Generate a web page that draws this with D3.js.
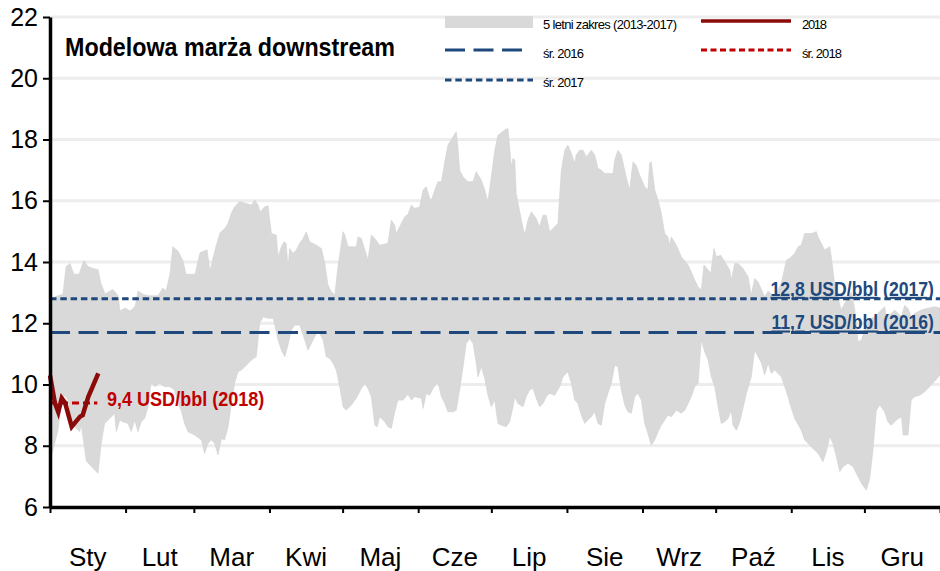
<!DOCTYPE html>
<html>
<head>
<meta charset="utf-8">
<script src="https://cdn.jsdelivr.net/npm/d3@7/dist/d3.min.js"></script>
<style>
  body { margin: 0; background: #fff; }
  svg { display: block; }
</style>
</head>
<body>
<svg id="chart" width="940" height="571"></svg>
<script>
// Month labels (Polish) and y-axis ticks
const monthLabels = ["Sty", "Lut", "Mar", "Kwi", "Maj", "Cze", "Lip", "Sie", "Wrz", "Paź", "Lis", "Gru"];
const yTicks = [6, 8, 10, 12, 14, 16, 18, 20, 22];

// 5-year range 2013-2017: upper envelope [day of year, USD/bbl]
const rangeUpper = [
  [0,12.8],[3.3,12.9],[5.3,12.95],[6.6,13.85],[8.2,13.95],[9.8,13.6],[11.9,13.6],[13.9,14.05],[15.6,13.85],[17.2,13.8],
  [19.7,13.75],[20.9,13.3],[22.6,12.95],[24.6,13.05],[25.8,13.1],[27.9,12.9],[28.7,12.4],[30.8,12.5],[32.8,12.4],[34.9,12.55],
  [36.1,13.05],[38.1,12.95],[40.2,12.9],[44.3,12.9],[46.3,13.15],[47.6,13.05],[49.2,13.6],[50.4,14.5],[52.5,14.35],[54.5,14.05],
  [55.8,13.6],[59.5,13.6],[61.5,14.3],[64.4,14.4],[65.6,13.7],[67.7,14.4],[69.7,14.95],[71.8,15.1],[73.0,15.26],[74.4,15.6],
  [75.7,15.8],[77.8,15.97],[80.5,15.91],[82.6,15.86],[84.0,16.02],[85.3,15.86],[86.2,15.64],[88.0,15.8],[89.4,15.84],[90.8,14.93],
  [92.8,14.88],[93.5,14.17],[94.9,14.5],[96.0,14.66],[96.9,14.6],[97.6,13.79],[98.3,14.44],[99.7,14.28],[101.0,14.39],[102.4,14.61],
  [103.8,14.77],[105.1,14.99],[106.5,14.66],[109.2,14.55],[111.3,14.44],[112.7,13.95],[114.0,13.25],[115.4,13.03],[116.8,12.92],[118.1,13.85],
  [120.2,14.99],[120.9,14.88],[122.2,14.5],[125.6,14.5],[126.3,14.82],[127.7,14.77],[129.1,14.4],[130.4,14.06],[131.8,14.88],[133.2,14.77],
  [135.2,14.55],[138.6,14.61],[140.0,15.37],[141.4,15.2],[142.0,14.93],[144.1,15.26],[145.5,15.48],[146.8,15.55],[148.2,15.86],[149.6,15.75],
  [151.6,15.8],[153.0,16.35],[154.3,16.46],[155.7,16.08],[156.4,16.02],[157.8,16.35],[159.1,16.62],[160.5,16.62],[161.9,17.27],[163.2,17.82],
  [165.3,18.09],[166.6,18.25],[167.3,17.76],[168.0,17.0],[169.4,16.78],[171.4,16.62],[173.5,16.62],[174.8,16.95],[176.9,16.67],[178.3,16.35],
  [179.6,15.97],[181.0,16.78],[182.4,17.65],[183.7,18.14],[186.5,18.31],[187.8,18.36],[188.5,17.76],[189.2,17.11],[189.9,17.38],[190.6,17.33],
  [191.2,16.24],[193.3,15.37],[194.7,14.88],[196.0,15.37],[197.4,15.64],[199.4,15.42],[200.8,15.15],[202.2,15.53],[203.5,15.53],[204.9,14.99],
  [207.0,15.15],[208.3,15.26],[209.7,17.0],[211.1,17.65],[212.4,17.82],[213.8,17.55],[215.2,17.22],[215.8,17.49],[217.2,17.65],[218.6,17.65],
  [219.9,17.44],[220.6,17.49],[222.0,17.65],[223.4,17.49],[224.7,17.06],[226.1,17.0],[227.5,16.89],[230.9,16.89],[231.6,17.33],[232.9,17.65],
  [234.3,17.49],[236.3,16.78],[237.7,16.35],[239.1,17.27],[240.4,17.16],[241.8,16.84],[243.9,16.46],[245.2,16.35],[245.9,17.22],[246.6,17.27],
  [248.0,16.35],[249.4,16.02],[250.7,15.59],[252.1,14.93],[253.4,14.82],[254.1,14.55],[254.8,14.82],[256.9,14.55],[258.9,14.17],[261.7,13.9],
  [263.0,13.68],[264.4,13.41],[265.8,13.19],[267.1,13.08],[268.2,13.9],[269.9,13.74],[271.0,13.63],[272.3,14.44],[273.3,14.17],[275.1,14.22],
  [276.7,14.01],[278.8,13.74],[279.4,13.41],[280.8,13.95],[282.2,13.95],[284.2,13.79],[286.3,13.52],[287.6,12.92],[289.0,13.46],[290.4,13.35],
  [293.1,12.86],[294.5,13.05],[297.2,12.86],[299.9,13.3],[302.0,14.06],[303.4,14.12],[305.4,14.28],[306.8,14.5],[308.1,14.55],[309.5,14.93],
  [312.2,14.93],[314.3,14.99],[315.0,14.82],[316.3,14.61],[317.7,14.39],[319.8,14.5],[320.4,14.17],[321.8,13.3],[323.1,12.86],[324.5,12.43],
  [325.9,12.65],[327.2,12.81],[328.6,13.0],[330.0,12.48],[331.4,11.4],[332.7,11.45],[335.5,12.1],[338.2,12.21],[340.9,12.43],[342.3,12.54],
  [343.0,12.21],[345.0,12.32],[346.4,12.43],[349.2,12.21],[350.5,12.59],[351.9,12.48],[353.2,12.21],[354.6,12.32],[357.3,12.43],[360.1,12.49],
  [362.8,12.54],[365,12.5]
];

// 5-year range 2013-2017: lower envelope [day of year, USD/bbl]
const rangeLower = [
  [0,7.5],[1.9,8.08],[3.3,8.51],[4.6,9.38],[6.0,9.65],[7.4,9.49],[8.7,8.78],[10.1,8.62],[12.2,8.46],[12.8,8.7],
  [14.9,7.5],[18.3,7.21],[19.7,7.1],[21.0,8.08],[22.4,8.73],[24.5,8.89],[26.5,9.06],[27.2,8.46],[28.6,8.84],[29.9,8.78],
  [32.0,8.73],[33.3,8.46],[34.7,8.84],[36.1,8.46],[37.4,8.78],[38.8,8.89],[40.2,9.27],[41.5,10.09],[42.9,9.93],[45.0,10.04],
  [47.0,9.93],[49.1,9.93],[51.1,9.82],[52.5,9.38],[53.8,9.16],[55.2,8.73],[56.6,8.46],[59.3,8.35],[62.1,8.19],[63.4,7.75],
  [64.8,8.08],[66.2,8.19],[67.5,8.08],[68.9,7.7],[70.3,8.24],[71.6,8.19],[73.0,8.6],[74.4,9.38],[75.7,10.04],[77.1,10.42],
  [78.5,10.47],[80.5,10.63],[82.6,10.8],[84.6,10.91],[86.0,12.0],[87.4,12.21],[89.4,12.16],[91.5,12.16],[92.2,11.94],[93.5,11.45],
  [94.9,11.12],[96.3,10.91],[97.6,11.29],[99.0,11.78],[100.4,11.94],[102.4,11.94],[104.5,11.45],[105.8,11.12],[107.9,11.45],[109.9,11.78],
  [112.0,11.45],[113.3,10.91],[114.7,10.85],[116.1,10.69],[117.4,10.47],[118.8,9.93],[120.2,9.27],[121.5,9.16],[123.6,9.33],[125.6,9.55],
  [127.7,9.87],[129.1,10.04],[130.4,9.87],[131.8,9.6],[133.2,8.67],[134.2,8.62],[135.2,8.95],[137.3,8.78],[138.6,8.62],[140.0,8.57],
  [141.4,9.11],[142.7,9.49],[144.8,9.49],[146.8,9.68],[148.2,9.49],[149.6,9.6],[152.3,9.55],[153.0,9.22],[154.3,9.71],[155.7,9.65],
  [157.1,9.87],[159.1,10.09],[160.5,9.6],[161.9,9.38],[163.2,9.11],[165.3,9.11],[166.6,9.16],[168.0,9.82],[169.4,10.58],[170.7,11.34],
  [172.1,11.5],[173.5,11.34],[174.8,10.69],[175.5,10.25],[176.9,10.58],[178.3,10.2],[179.6,9.65],[181.0,9.27],[182.4,9.49],[183.7,8.73],
  [185.1,8.67],[187.1,8.62],[188.5,8.78],[189.9,9.27],[190.6,9.6],[191.9,9.38],[194.0,9.27],[195.3,9.6],[196.7,9.82],[198.1,9.87],
  [199.4,9.55],[200.8,9.27],[202.2,9.38],[203.5,9.6],[204.9,9.71],[207.0,9.65],[209.0,9.93],[210.4,10.25],[212.4,10.42],[213.8,10.04],
  [215.2,9.49],[216.5,9.38],[217.9,9.0],[219.3,8.73],[220.6,8.84],[222.0,8.95],[223.4,9.11],[224.7,8.73],[226.1,8.67],[227.5,9.38],
  [228.8,9.71],[230.2,10.04],[231.6,10.63],[232.9,10.58],[234.3,9.82],[235.7,9.33],[237.0,9.11],[238.4,9.06],[239.8,9.6],[241.1,9.71],
  [242.5,9.49],[243.9,8.73],[245.2,8.4],[246.6,8.02],[248.0,8.19],[249.4,8.46],[250.7,8.67],[252.1,8.84],[253.4,9.0],[254.8,8.95],
  [256.9,9.16],[258.9,9.06],[260.3,9.16],[261.7,9.38],[263.0,9.6],[264.4,9.93],[265.8,10.04],[267.1,11.45],[268.5,11.07],[269.9,10.8],
  [271.2,10.25],[272.6,9.93],[274.0,9.27],[275.3,8.73],[276.7,8.78],[278.1,8.89],[279.4,9.16],[280.1,8.67],[281.5,8.51],[282.9,8.78],
  [284.2,9.22],[285.6,9.71],[287.6,10.25],[289.0,11.12],[290.4,10.91],[291.8,10.69],[293.1,10.31],[294.5,10.69],[295.8,10.36],[297.2,10.47],
  [299.9,10.25],[301.3,9.93],[302.7,9.6],[303.4,9.38],[305.4,8.89],[308.1,8.51],[309.5,8.19],[312.2,7.97],[315.0,7.75],[317.0,7.48],
  [318.4,7.81],[319.8,8.3],[321.1,8.08],[322.5,7.64],[323.9,7.15],[325.3,7.32],[327.3,7.43],[329.3,7.32],[330.7,7.1],[332.8,6.77],
  [334.8,6.55],[336.2,6.94],[337.5,7.86],[338.9,9.16],[340.3,9.33],[342.3,9.11],[343.6,8.78],[345.0,8.67],[347.1,8.84],[349.2,8.95],
  [349.9,8.35],[351.9,8.35],[353.2,9.49],[354.6,9.6],[356.7,9.65],[358.7,9.76],[361.4,9.98],[365,10.31]
];

// 2018 daily margin [day of year, USD/bbl]
const margin2018 = [[0,10.3],[2,9.4],[3.4,9.1],[4.8,9.55],[6.2,9.4],[8.9,8.62],[12.3,8.95],[13.4,9.0],[15.7,9.6],[19.8,10.36]];

// Yearly averages
const avgYears = ["2016", "2017", "2018"];
const avgValues = [11.7, 12.8, 9.4];
const avg2018Span = [0, 19.4];

const BLUE = "#1f497d", DARK_RED = "#8b0a0a", RED = "#c00000", BAND = "#d9d9d9", GRID = "#ededed";
const SANS = "'Liberation Sans', Arial, sans-serif";

const svg = d3.select("#chart");
const year0 = new Date(2018, 0, 1), year1 = new Date(2019, 0, 1);
const toDate = d => new Date(year0.getTime() + d * 864e5);

const x = d3.scaleTime().domain([year0, year1]).range([50, 940]);
const y = d3.scaleLinear().domain([6, 22]).range([507, 17]);

// horizontal gridlines
svg.append("g").selectAll("line").data(yTicks.filter(v => v > 6)).join("line")
  .attr("x1", x(year0)).attr("x2", x(year1))
  .attr("y1", d => y(d)).attr("y2", d => y(d))
  .attr("stroke", GRID).attr("stroke-width", 3);

// min-max band
const bandPts = rangeUpper.concat(rangeLower.slice().reverse());
const bandLine = d3.line().x(d => x(toDate(d[0]))).y(d => y(d[1]));
svg.append("path").attr("d", bandLine(bandPts) + "Z")
  .attr("fill", BAND).attr("stroke", "#d2d2d2").attr("stroke-width", 0.6);

// average lines
const avg = Object.fromEntries(avgYears.map((k, i) => [k, avgValues[i]]));
svg.append("line")
  .attr("x1", x(year0)).attr("x2", x(year1))
  .attr("y1", y(avg["2017"])).attr("y2", y(avg["2017"]))
  .attr("stroke", BLUE).attr("stroke-width", 3).attr("stroke-dasharray", "6.5,3.8");
svg.append("line")
  .attr("x1", x(year0)).attr("x2", x(year1))
  .attr("y1", y(avg["2016"])).attr("y2", y(avg["2016"]))
  .attr("stroke", BLUE).attr("stroke-width", 3).attr("stroke-dasharray", "20,8.5");
svg.append("line")
  .attr("x1", x(toDate(avg2018Span[0]))).attr("x2", x(toDate(avg2018Span[1])))
  .attr("y1", y(avg["2018"])).attr("y2", y(avg["2018"]))
  .attr("stroke", RED).attr("stroke-width", 3).attr("stroke-dasharray", "7,4");

// 2018 series
svg.append("path").datum(margin2018)
  .attr("d", d3.line().x(d => x(toDate(d[0]))).y(d => y(d[1])))
  .attr("fill", "none").attr("stroke", DARK_RED).attr("stroke-width", 4.5)
  .attr("stroke-linejoin", "miter");

// axes
const yAxis = svg.append("g").attr("transform", `translate(${x(year0)},0)`)
  .call(d3.axisLeft(y).tickValues(yTicks).tickSize(7).tickSizeOuter(0).tickPadding(5).tickFormat(d3.format("d")));
const xAxis = svg.append("g").attr("transform", `translate(0,${y(6)})`)
  .call(d3.axisBottom(x).ticks(d3.timeMonth.every(1)).tickSize(6).tickSizeOuter(0).tickFormat(""));
[yAxis, xAxis].forEach(g => {
  g.select(".domain").attr("stroke", "#000").attr("stroke-width", 3.5);
  g.selectAll(".tick line").attr("stroke", "#000").attr("stroke-width", 2);
});
yAxis.selectAll(".tick text").attr("font-family", SANS).attr("font-size", 25).attr("fill", "#000");

// month labels centred within each month
const months = d3.timeMonth.range(year0, year1);
svg.append("g").selectAll("text").data(months).join("text")
  .attr("x", (d, i) => (x(d) + x(d3.timeMonth.offset(d, 1))) / 2)
  .attr("y", 566)
  .attr("text-anchor", "middle")
  .attr("font-family", SANS).attr("font-size", 26)
  .text((d, i) => monthLabels[i]);

// title
svg.append("text").attr("x", 65).attr("y", 56)
  .attr("font-family", SANS).attr("font-weight", "bold").attr("font-size", 25)
  .attr("textLength", 330).attr("lengthAdjust", "spacingAndGlyphs")
  .text("Modelowa marża downstream");

// condensed bold value labels
const fmt = v => d3.format(".1f")(v).replace(".", ",");
svg.append("text")
  .attr("transform", `translate(107,${y(avg["2018"]) + 3}) scale(0.88,1)`)
  .attr("font-family", SANS).attr("font-weight", "bold").attr("font-size", 20.5)
  .attr("fill", RED)
  .text(`${fmt(avg["2018"])} USD/bbl (2018)`);

function avgLabel(year) {
  const words = [fmt(avg[year]), "USD/bbl", `(${year})`];
  const t = svg.append("text")
    .attr("transform", `translate(934,${y(avg[year]) - 3}) scale(0.86,1)`)
    .attr("text-anchor", "end")
    .attr("font-family", SANS).attr("font-weight", "bold").attr("font-size", 20.5)
    .attr("fill", BLUE);
  words.forEach((w, i) => {
    if (i > 0) t.append("tspan").text(" ");
    t.append("tspan").attr("text-decoration", "underline").text(w);
  });
}
avgLabel("2017");
avgLabel("2016");

// legend
const lg = svg.append("g").attr("font-family", SANS).attr("font-size", 13).attr("fill", "#000");
lg.append("rect").attr("x", 445).attr("y", 16).attr("width", 88).attr("height", 12).attr("fill", BAND);
lg.append("text").attr("x", 543).attr("y", 29).attr("textLength", 134).attr("lengthAdjust", "spacing")
  .text("5 letni zakres (2013-2017)");
lg.append("line").attr("x1", 701).attr("x2", 791).attr("y1", 21).attr("y2", 21)
  .attr("stroke", DARK_RED).attr("stroke-width", 3.5);
lg.append("text").attr("x", 802).attr("y", 29).attr("textLength", 25).attr("lengthAdjust", "spacing").text("2018");
lg.append("line").attr("x1", 445).attr("x2", 523).attr("y1", 50).attr("y2", 50)
  .attr("stroke", BLUE).attr("stroke-width", 3).attr("stroke-dasharray", "20,8.5");
lg.append("text").attr("x", 543).attr("y", 58).attr("textLength", 41).attr("lengthAdjust", "spacing").text("śr. 2016");
lg.append("line").attr("x1", 701).attr("x2", 791).attr("y1", 50).attr("y2", 50)
  .attr("stroke", RED).attr("stroke-width", 3).attr("stroke-dasharray", "6,3.5");
lg.append("text").attr("x", 802).attr("y", 58).attr("textLength", 40).attr("lengthAdjust", "spacing").text("śr. 2018");
lg.append("line").attr("x1", 445).attr("x2", 533).attr("y1", 80).attr("y2", 80)
  .attr("stroke", BLUE).attr("stroke-width", 3).attr("stroke-dasharray", "6.5,3.8");
lg.append("text").attr("x", 543).attr("y", 87).attr("textLength", 41).attr("lengthAdjust", "spacing").text("śr. 2017");
</script>
</body>
</html>
